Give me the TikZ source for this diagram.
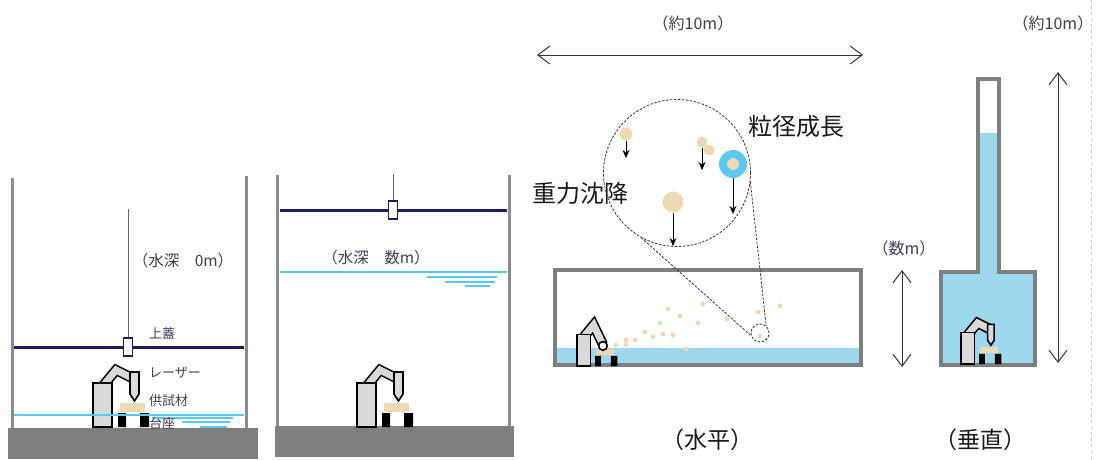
\documentclass[tikz,border=0pt]{standalone}
\usepackage{fontspec}
\setmainfont{Noto Sans CJK JP}
\usetikzlibrary{arrows.meta}

\definecolor{lidnavy}{HTML}{1B1B66}
\definecolor{wallgray}{HTML}{8C8C8C}
\definecolor{groundgray}{HTML}{7F7F7F}
\definecolor{seablue}{HTML}{5AC8F0}
\definecolor{waterfill}{HTML}{9DD8EF}
\definecolor{sand}{HTML}{EDD9B3}
\definecolor{armgray}{HTML}{D9D9D9}
\definecolor{labelgray}{HTML}{3E3E52}

\begin{document}
\begin{tikzpicture}[x=1pt, y=-1pt,
    wall/.style={wallgray, line width=3},
    ground/.style={fill=groundgray},
    lid/.style={lidnavy, line width=3},
    rod/.style={black!60, line width=0.8},
    lidbox/.style={draw=lidnavy, fill=white, line width=1.2, minimum width=9, minimum height=18, inner sep=0},
    surface/.style={seablue, line width=2},
    wave/.style={seablue, line width=1.5},
    tank/.style={draw=groundgray, line width=4},
    robotline/.style={draw=black, line width=1.6},
    armbar/.style={line width=1.6, double=armgray, double distance=7},
    grain/.style={circle, fill=sand, inner sep=0},
    fall/.style={->, >={Stealth[length=8pt,width=7pt]}, line width=1},
    dim/.style={<->, >={Straight Barb[length=12pt,width=18pt]}, line width=1, black!80},
    zoomline/.style={black!80, line width=0.8, dash pattern=on 2.5pt off 1.5pt},
    depth/.style={font=\fontsize{15.5}{17}\selectfont, text=labelgray},
    part/.style={font=\fontsize{13}{15}\selectfont, text=labelgray, anchor=west, inner sep=0},
    size/.style={font=\fontsize{16}{18}\selectfont, text=labelgray},
    effect/.style={font=\fontsize{24}{26}\selectfont, text=black!90},
    caption/.style={font=\fontsize{23}{25}\selectfont, text=black!90},
    robot/.pic={
      \draw[armbar] (9,-40) -- (23,-57) -- (41,-48);
      \draw[robotline, fill=armgray] (0,0) rectangle (19,-44);
      \draw[robotline, fill=armgray] (37,-55) -- (46,-55) -- (46,-33) -- (41.5,-26) -- (37,-33) -- cycle;
      \fill[sand] (27,-15) rectangle (52,-24);
      \fill (25,0) rectangle (33,-14) (47,0) rectangle (56,-14);
    },
    robot ball/.pic={
      \draw[armbar] (9,-40) -- (23,-57) -- (36,-30);
      \draw[robotline, fill=armgray] (0,0) rectangle (19,-44);
      \fill[sand] (27,-15) rectangle (52,-24);
      \fill (25,0) rectangle (33,-14) (47,0) rectangle (56,-14);
      \draw[robotline, fill=white] (36,-28) circle (6);
    }
]
\useasboundingbox (0,0) rectangle (1097,459);

% Su derinligi 0m
\fill[ground] (8,428) rectangle (258,459);
\draw[wall] (12,178) -- (12,428);
\draw[wall] (246,176) -- (246,428);
\pic at (93,427) {robot};
\draw[lid] (14,347) -- (244,347);
\node[lidbox] (box1) at (128,347) {};
\coordinate (rod1) at (128,209);
\draw[rod] (rod1) -- (box1.north);
\draw[surface] (14,415) -- (244,415);
\draw[wave] (152,418) -- (233,418);
\draw[wave] (182,422) -- (230,422);
\draw[wave] (200,427) -- (227,427);
\node[depth] (d1) at (183,261) {（水深　0m）};
\node[part] (lbl1) at (149,333) {上蓋};
\node[part] (lbl2) at (149,373) {レーザー};
\node[part] (lbl3) at (149,401) {供試材};
\node[part] (lbl4) at (149,424) {台座};

% Su derinligi birkac m
\fill[ground] (275,426) rectangle (514,457);
\draw[wall] (277,175) -- (277,426);
\draw[wall] (509,175) -- (509,426);
\pic at (357,427) {robot};
\draw[lid] (280,210) -- (507,210);
\node[lidbox] (box2) at (393,210) {};
\coordinate (rod2) at (393,174);
\draw[rod] (rod2) -- (box2.north);
\draw[surface] (280,272) -- (507,272);
\draw[wave] (427,277) -- (497,277);
\draw[wave] (445,282) -- (495,282);
\draw[wave] (465,286) -- (490,286);
\node[depth] (d2) at (376,258) {（水深　数m）};

% Yatay tank
\coordinate (wl) at (537,55);
\coordinate (wr) at (863,55);
\draw[dim] (wl) -- (wr);
\node[size] (w) at (693,23) {（約10m）};
\fill[waterfill] (555,348) rectangle (861,365);
\draw[tank] (555,270) rectangle (861,365);
\pic[scale=0.72] at (577,366) {robot ball};
\foreach \px/\py in {668/309, 703/304, 680/316, 660/323, 698/323, 727/319, 645/332,
    653/337, 663/334, 673/335, 635/340, 626/340, 626/345, 616/345, 758/312, 780/306,
    760/336, 686/349}
  \fill[sand] (\px,\py) circle (2.4);
\node[circle, draw, zoomline, minimum size=18, inner sep=0] (spot) at (760,333) {};
\node[circle, draw, zoomline, minimum size=147, inner sep=0] (closeup) at (677,173) {};
\draw[zoomline] (closeup.241) -- (spot.197);
\draw[zoomline] (closeup.353) -- (spot.49);

% Buyutec ici
\node[grain, minimum size=13] (g1) at (626,134) {};
\node[grain, minimum size=11] (g2a) at (702,142) {};
\node[grain, minimum size=11] (g2b) at (709,150) {};
\node[circle, fill=seablue, minimum size=28, inner sep=0] (ring) at (733,164) {};
\node[grain, minimum size=12] (g3) at (733,164) {};
\node[grain, minimum size=21] (g4) at (673,202) {};
\coordinate (f1) at (626,158);
\coordinate (f2) at (702,170);
\coordinate (f3) at (733,214);
\coordinate (f4) at (673,246);
\draw[fall] (g1.south) -- (f1);
\draw[fall] (g2a.south) -- (f2);
\draw[fall] (ring.south) -- (f3);
\draw[fall] (g4.south) -- (f4);
\node[effect] (grow) at (796,126) {粒径成長};
\node[effect] (settle) at (580,193) {重力沈降};

% Dikey tank
\fill[waterfill] (978,133) -- (999,133) -- (999,272) -- (1035,272) -- (1035,365)
  -- (941,365) -- (941,272) -- (978,272) -- cycle;
\draw[tank] (978,79) -- (999,79) -- (999,272) -- (1035,272) -- (1035,365)
  -- (941,365) -- (941,272) -- (978,272) -- cycle;
\pic[scale=0.72] at (961,364) {robot};
\coordinate (ht) at (1058,72);
\coordinate (hb) at (1058,363);
\draw[dim] (ht) -- (hb);
\node[size] (h) at (1053,23) {（約10m）};
\coordinate (st) at (902,270);
\coordinate (sb) at (902,367);
\draw[dim] (st) -- (sb);
\node[size] (s) at (904,248) {（数m）};
\draw[black!20, dashed, line width=0.6] (1091,0) -- (1091,459);

% Alt basliklar
\node[caption] (cap1) at (707,440) {（水平）};
\node[caption] (cap2) at (980,440) {（垂直）};
\end{tikzpicture}
\end{document}
